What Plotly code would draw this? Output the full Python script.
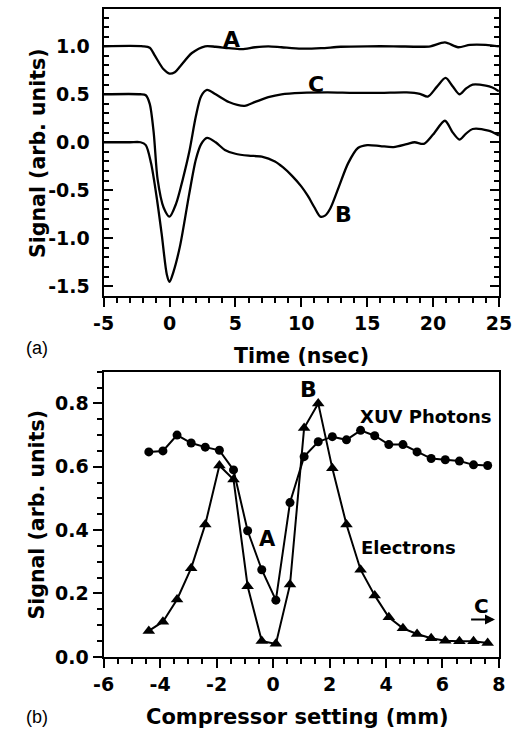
import plotly.graph_objects as go

W, H = 532, 745

# ---------------- Panel (a) data ----------------
a_t = [-5, -2, -1.5, -1.1, -0.45, 0, 0.4, 0.8, 1.7, 2.7, 3.5, 4.5, 5.5, 6.5, 7.5, 8.5, 10, 11.5,
       13, 15, 17, 19, 19.8, 20.9, 21.9, 22.8, 24, 25]
a_v = [1.0, 1.0, 0.985, 0.9, 0.76, 0.715, 0.73, 0.79, 0.93, 1.0, 0.995, 0.98, 0.97, 0.99, 1.0, 0.99,
       0.975, 0.98, 0.995, 1.0, 1.0, 0.995, 1.0, 1.04, 0.99, 1.015, 1.015, 1.0]

c_t = [-5, -2.2, -1.8, -1.5, -1.2, -0.9, -0.45, 0, 0.5, 1, 1.5, 2, 2.4, 2.85, 3.5, 4.5, 5.7, 6.5,
       7.5, 8.5, 10, 12, 14, 16, 18, 19, 19.6, 20.3, 20.95, 21.5, 22, 22.5, 23, 24, 24.5, 25]
c_v = [0.5, 0.5, 0.49, 0.4, 0.1, -0.39, -0.68, -0.775, -0.64, -0.39, -0.1, 0.27, 0.48, 0.545, 0.5,
       0.42, 0.38, 0.42, 0.47, 0.5, 0.515, 0.52, 0.515, 0.515, 0.52, 0.505, 0.476, 0.58, 0.67, 0.58,
       0.5, 0.56, 0.6, 0.59, 0.57, 0.53]

b_t = [-5, -3, -2.2, -1.8, -1.4, -1, -0.6, -0.2, 0, 0.3, 0.8, 1.5, 2, 2.4, 2.85, 3.5, 4.2, 5, 6, 7,
       8, 8.6, 9.3, 10, 10.5, 11, 11.45, 11.8, 12.2, 12.85, 13.55, 14.3, 15, 16, 17, 18, 18.6, 19.3,
       20, 20.9, 21.5, 22, 22.5, 23, 24.2, 25]
b_v = [0, 0, 0, -0.03, -0.22, -0.55, -0.95, -1.38, -1.455, -1.35, -1.08, -0.535, -0.18, -0.02,
       0.045, 0.0, -0.08, -0.12, -0.14, -0.15, -0.2, -0.26, -0.35, -0.46, -0.56, -0.68, -0.775,
       -0.765, -0.69, -0.465, -0.22, -0.06, -0.03, -0.04, -0.05, -0.02, 0, -0.017, 0.08, 0.224,
       0.1, 0.028, 0.09, 0.138, 0.12, 0.07]

a_xticks = [-5, 0, 5, 10, 15, 20, 25]
a_xlabels = ["-5", "0", "5", "10", "15", "20", "25"]
a_yticks = [-1.5, -1.0, -0.5, 0.0, 0.5, 1.0]
a_ylabels = ["-1.5", "-1.0", "-0.5", "0.0", "0.5", "1.0"]

# ---------------- Panel (b) data ----------------
comp = [-4.4, -3.9, -3.4, -2.9, -2.4, -1.9, -1.4, -0.9, -0.4, 0.1, 0.6, 1.1, 1.6, 2.1, 2.6, 3.1,
        3.6, 4.1, 4.6, 5.1, 5.6, 6.1, 6.6, 7.1, 7.6]
xuv = [0.647, 0.65, 0.70, 0.675, 0.662, 0.652, 0.59, 0.398, 0.275, 0.179, 0.487, 0.632, 0.679,
       0.695, 0.685, 0.715, 0.698, 0.670, 0.670, 0.647, 0.626, 0.622, 0.618, 0.606, 0.604]
elec = [0.082, 0.111, 0.181, 0.28, 0.418, 0.604, 0.56, 0.223, 0.05, 0.041, 0.228, 0.722, 0.80,
        0.595, 0.418, 0.275, 0.194, 0.125, 0.09, 0.072, 0.059, 0.051, 0.049, 0.049, 0.044]

b_xticks = [-6, -4, -2, 0, 2, 4, 6, 8]
b_xlabels = ["-6", "-4", "-2", "0", "2", "4", "6", "8"]
b_yticks = [0.0, 0.2, 0.4, 0.6, 0.8]
b_ylabels = ["0.0", "0.2", "0.4", "0.6", "0.8"]

FONT = "DejaVu Sans"
TICKF = dict(family=FONT, size=19, color="black", weight="bold")

fig = go.Figure()
for t, v in ((a_t, a_v), (c_t, c_v), (b_t, b_v)):
    fig.add_trace(go.Scatter(x=t, y=v, mode="lines",
                             line=dict(color="black", width=2.3, shape="spline", smoothing=0.8),
                             xaxis="x", yaxis="y", showlegend=False, hoverinfo="skip"))

fig.add_trace(go.Scatter(x=comp, y=xuv, mode="lines+markers", line=dict(color="black", width=2),
                         marker=dict(symbol="circle", size=9, color="black"),
                         xaxis="x2", yaxis="y2", showlegend=False))
fig.add_trace(go.Scatter(x=comp, y=elec, mode="lines+markers", line=dict(color="black", width=2),
                         marker=dict(symbol="triangle-up", size=11, color="black"),
                         xaxis="x2", yaxis="y2", showlegend=False))

xd = [97 / W, 511 / W]
top_dom = [(H - 300.5) / H, (H - 9) / H]
bot_dom = [(H - 666.7) / H, (H - 377.3) / H]

common = dict(showgrid=False, zeroline=False, showline=True, linecolor="black", linewidth=2.2,
              tickcolor="black", tickwidth=2, tickfont=TICKF)

def minor(dt, side):
    return dict(dtick=dt, tick0=0, ticks=side, ticklen=5, tickcolor="black", tickwidth=2)

fig.update_layout(
    width=W, height=H, margin=dict(l=0, r=0, t=0, b=0),
    paper_bgcolor="white", plot_bgcolor="white",
    xaxis=dict(domain=xd, anchor="y", range=[-5, 25], tickvals=a_xticks, ticktext=a_xlabels,
               ticks="outside", ticklen=9, mirror=True, minor=minor(1, "outside"), **common),
    yaxis=dict(domain=top_dom, anchor="x", range=[-1.603, 1.39], tickvals=a_yticks, ticktext=a_ylabels,
               ticks="inside", ticklen=9, mirror="ticks", ticklabelstandoff=8,
               minor=minor(0.1, "inside"), **common),
    xaxis2=dict(domain=xd, anchor="y2", range=[-6, 8], tickvals=b_xticks, ticktext=b_xlabels,
                ticks="outside", ticklen=9, mirror=True, minor=minor(0.5, "outside"), **common),
    yaxis2=dict(domain=bot_dom, anchor="x2", range=[0, 0.9], tickvals=b_yticks, ticktext=b_ylabels,
                ticks="outside", ticklen=9, mirror=True, ticklabelstandoff=0,
                minor=minor(0.05, "outside"), **common),
)

def ann(text, x, y, size, xref="paper", yref="paper", angle=0, bold=True, family=FONT):
    f = dict(family=family, color="black", size=size)
    if bold:
        f["weight"] = "bold"
    fig.add_annotation(text=text, x=x, y=y, xref=xref, yref=yref, showarrow=False, font=f,
                       textangle=angle, xanchor="center", yanchor="middle")

# axis titles
ann("Signal (arb. units)", 27.5 / W, (H - 155) / H, 20.5, angle=-90)
ann("Signal (arb. units)", 27.5 / W, (H - 522) / H, 20.5, angle=-90)
ann("Time (nsec)", 304 / W, (H - 361) / H, 20.5)
ann("Compressor setting (mm)", 300 / W, (H - 728) / H, 21)
ann("(a)", 27 / W, (H - 353) / H, 18, bold=False, family="Liberation Sans")
ann("(b)", 27 / W, (H - 728) / H, 18, bold=False, family="Liberation Sans")

# curve labels panel (a)
ann("A", 4.7, 1.07, 22, xref="x", yref="y")
ann("C", 11.1, 0.6, 22, xref="x", yref="y")
ann("B", 13.2, -0.75, 22, xref="x", yref="y")

# curve labels panel (b)
ann("B", 1.27, 0.845, 22, xref="x2", yref="y2")
ann("XUV Photons", 5.43, 0.758, 18, xref="x2", yref="y2")
ann("A", -0.18, 0.373, 21, xref="x2", yref="y2")
ann("Electrons", 4.78, 0.344, 18, xref="x2", yref="y2")
ann("C", 7.38, 0.16, 20, xref="x2", yref="y2")
fig.add_annotation(x=7.86, y=0.118, ax=6.96, ay=0.118, xref="x2", yref="y2", axref="x2", ayref="y2",
                   text="", showarrow=True, arrowhead=2, arrowsize=1, arrowwidth=2, arrowcolor="black")

fig.write_html("out.html")
